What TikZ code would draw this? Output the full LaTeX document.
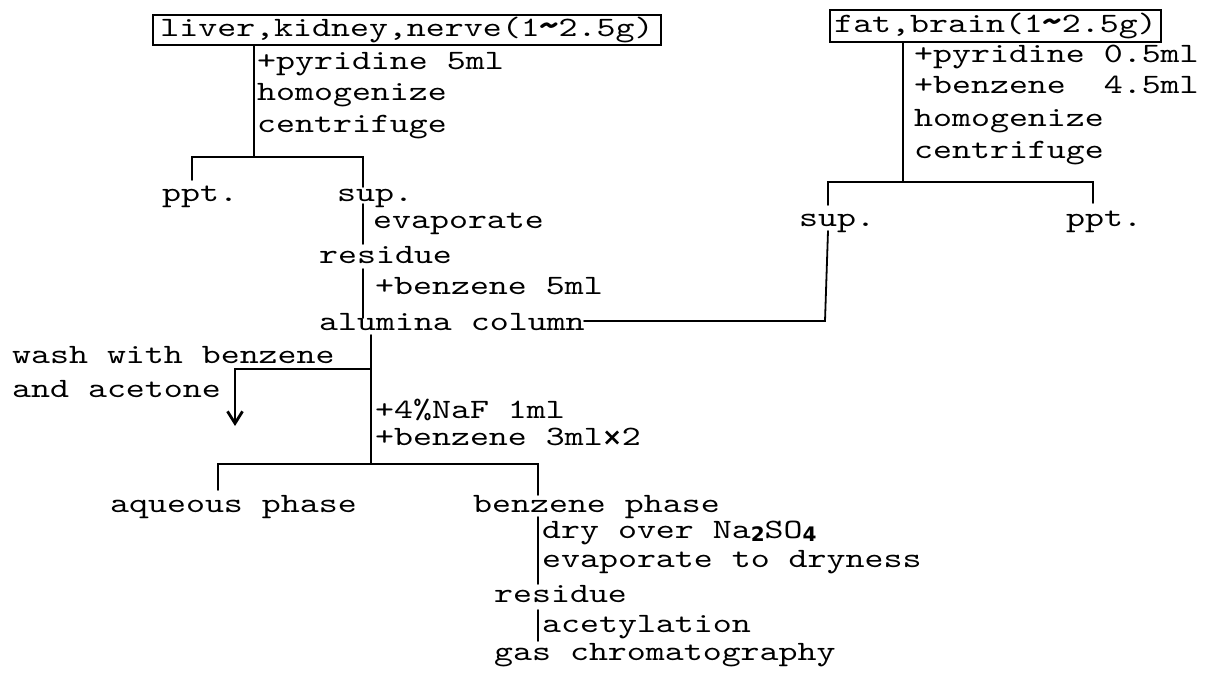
\documentclass[tikz,border=0pt]{standalone}
\usepackage{fontspec}
\usetikzlibrary{arrows.meta}
\newfontfamily\tw[FakeStretch=1.29,BoldFont=lmmonolt10-bold.otf]{lmmono10-regular.otf}
\newfontfamily\dvs{DejaVu Sans}
\newcommand{\twsize}{\tw\fontsize{28}{29}\selectfont}
\newcommand{\subd}[1]{\raisebox{-3pt}{\dvs\bfseries\fontsize{20}{20}\selectfont #1}}
\newcommand{\tld}{\makebox[19pt]{\raisebox{-2pt}{\scalebox{1.35}[1.5]{\textbf{\textasciitilde}}}}}
\newcommand{\tms}{\makebox[19pt]{\dvs\bfseries\fontsize{24}{24}\selectfont ×}}
\begin{document}
\begin{tikzpicture}[x=1pt,y=-1pt,
  txt/.style={inner sep=0pt, anchor=base west, font=\twsize},
  boxn/.style={draw, line width=2.2pt, inner sep=0pt, font=\twsize},
  ln/.style={line width=1.8pt, line cap=round}]
\fill[white] (0,0) rectangle (1206,674);
\useasboundingbox (0,0) rectangle (1206,674);

% ---------- left branch ----------
\node[boxn, minimum width=508pt, minimum height=30pt] (box1) at (407,30)
  {liver,kidney,nerve(1\tld2.5g)};
\node[txt] (l1) at (257,70) {+pyridine 5ml};
\node[txt] (l2) at (257,101) {homogenize};
\node[txt] (l3) at (257,132) {centrifuge};
\coordinate (s1) at (254,157);
\coordinate (s1l) at (192,157);
\coordinate (s1r) at (363,157);
\draw[ln] (box1.south -| s1) -- (s1);
\draw[ln] (s1l |- 0,180) -- (s1l) -- (s1r) -- (363,187);
\node[txt] (ppt1) at (162,201) {ppt.};
\node[txt] (sup1) at (337,201) {sup.};
\node[txt] (evap1) at (373,228) {evaporate};
\node[txt] (res1) at (319,263) {residue};
\node[txt] (benz1) at (375,294) {+benzene 5ml};
\node[txt] (alu) at (319,330) {alumina column};
\draw[ln] (363,204) -- (363,244);
\draw[ln] (363,269) -- (363,318);

% ---------- right branch ----------
\node[boxn, minimum width=331pt, minimum height=32pt] (box2) at (995.5,26)
  {fat,brain(1\tld2.5g)};
\node[txt] (r1) at (914,63) {+pyridine 0.5ml};
\node[txt] (r2) at (914,94) {+benzene\ \ 4.5ml};
\node[txt] (r3) at (914,126) {homogenize};
\node[txt] (r4) at (914,158) {centrifuge};
\coordinate (s2) at (903,182);
\coordinate (s2l) at (828,182);
\coordinate (s2r) at (1093,182);
\draw[ln] (box2.south -| s2) -- (s2);
\draw[ln] (828,205) -- (s2l) -- (s2r) -- (1093,203);
\node[txt] (sup2) at (799,226) {sup.};
\node[txt] (ppt2) at (1066,226) {ppt.};
\coordinate (a1) at (584,321);
\coordinate (c1) at (825,321);
\draw[ln] (a1) -- (c1) -- (828,231);

% ---------- alumina column to phases ----------
\coordinate (m1) at (371,369);
\coordinate (w1) at (235,369);
\coordinate (s3) at (371,464);
\draw[ln] (371,335) -- (s3);
\draw[ln, -{Straight Barb[length=12pt,width=15pt,line width=2.8pt]}] (m1) -- (w1) -- (235,426);
\node[txt] (wash1) at (12,363) {wash with benzene};
\node[txt] (wash2) at (12,397) {and acetone};
\node[txt] (naf) at (375,418) {+4\%NaF 1ml};
\node[txt] (benz2) at (375,445) {+benzene 3ml\tms2};
\coordinate (s3l) at (218,464);
\coordinate (s3r) at (538,464);
\draw[ln] (218,490) -- (s3l) -- (s3r) -- (538,495);
\node[txt] (aq) at (110,512) {aqueous phase};
\node[txt] (bp) at (473,512) {benzene phase};
\node[txt] (dry) at (542,538) {dry over Na\subd{2}SO\subd{4}};
\node[txt] (evap2) at (542,567) {evaporate to dryness};
\node[txt] (res2) at (494,602) {residue};
\node[txt] (acet) at (542,632) {acetylation};
\node[txt] (gc) at (494,660) {gas chromatography};
\draw[ln] (538,517) -- (538,584);
\draw[ln] (538,610) -- (538,641);
\end{tikzpicture}
\end{document}
